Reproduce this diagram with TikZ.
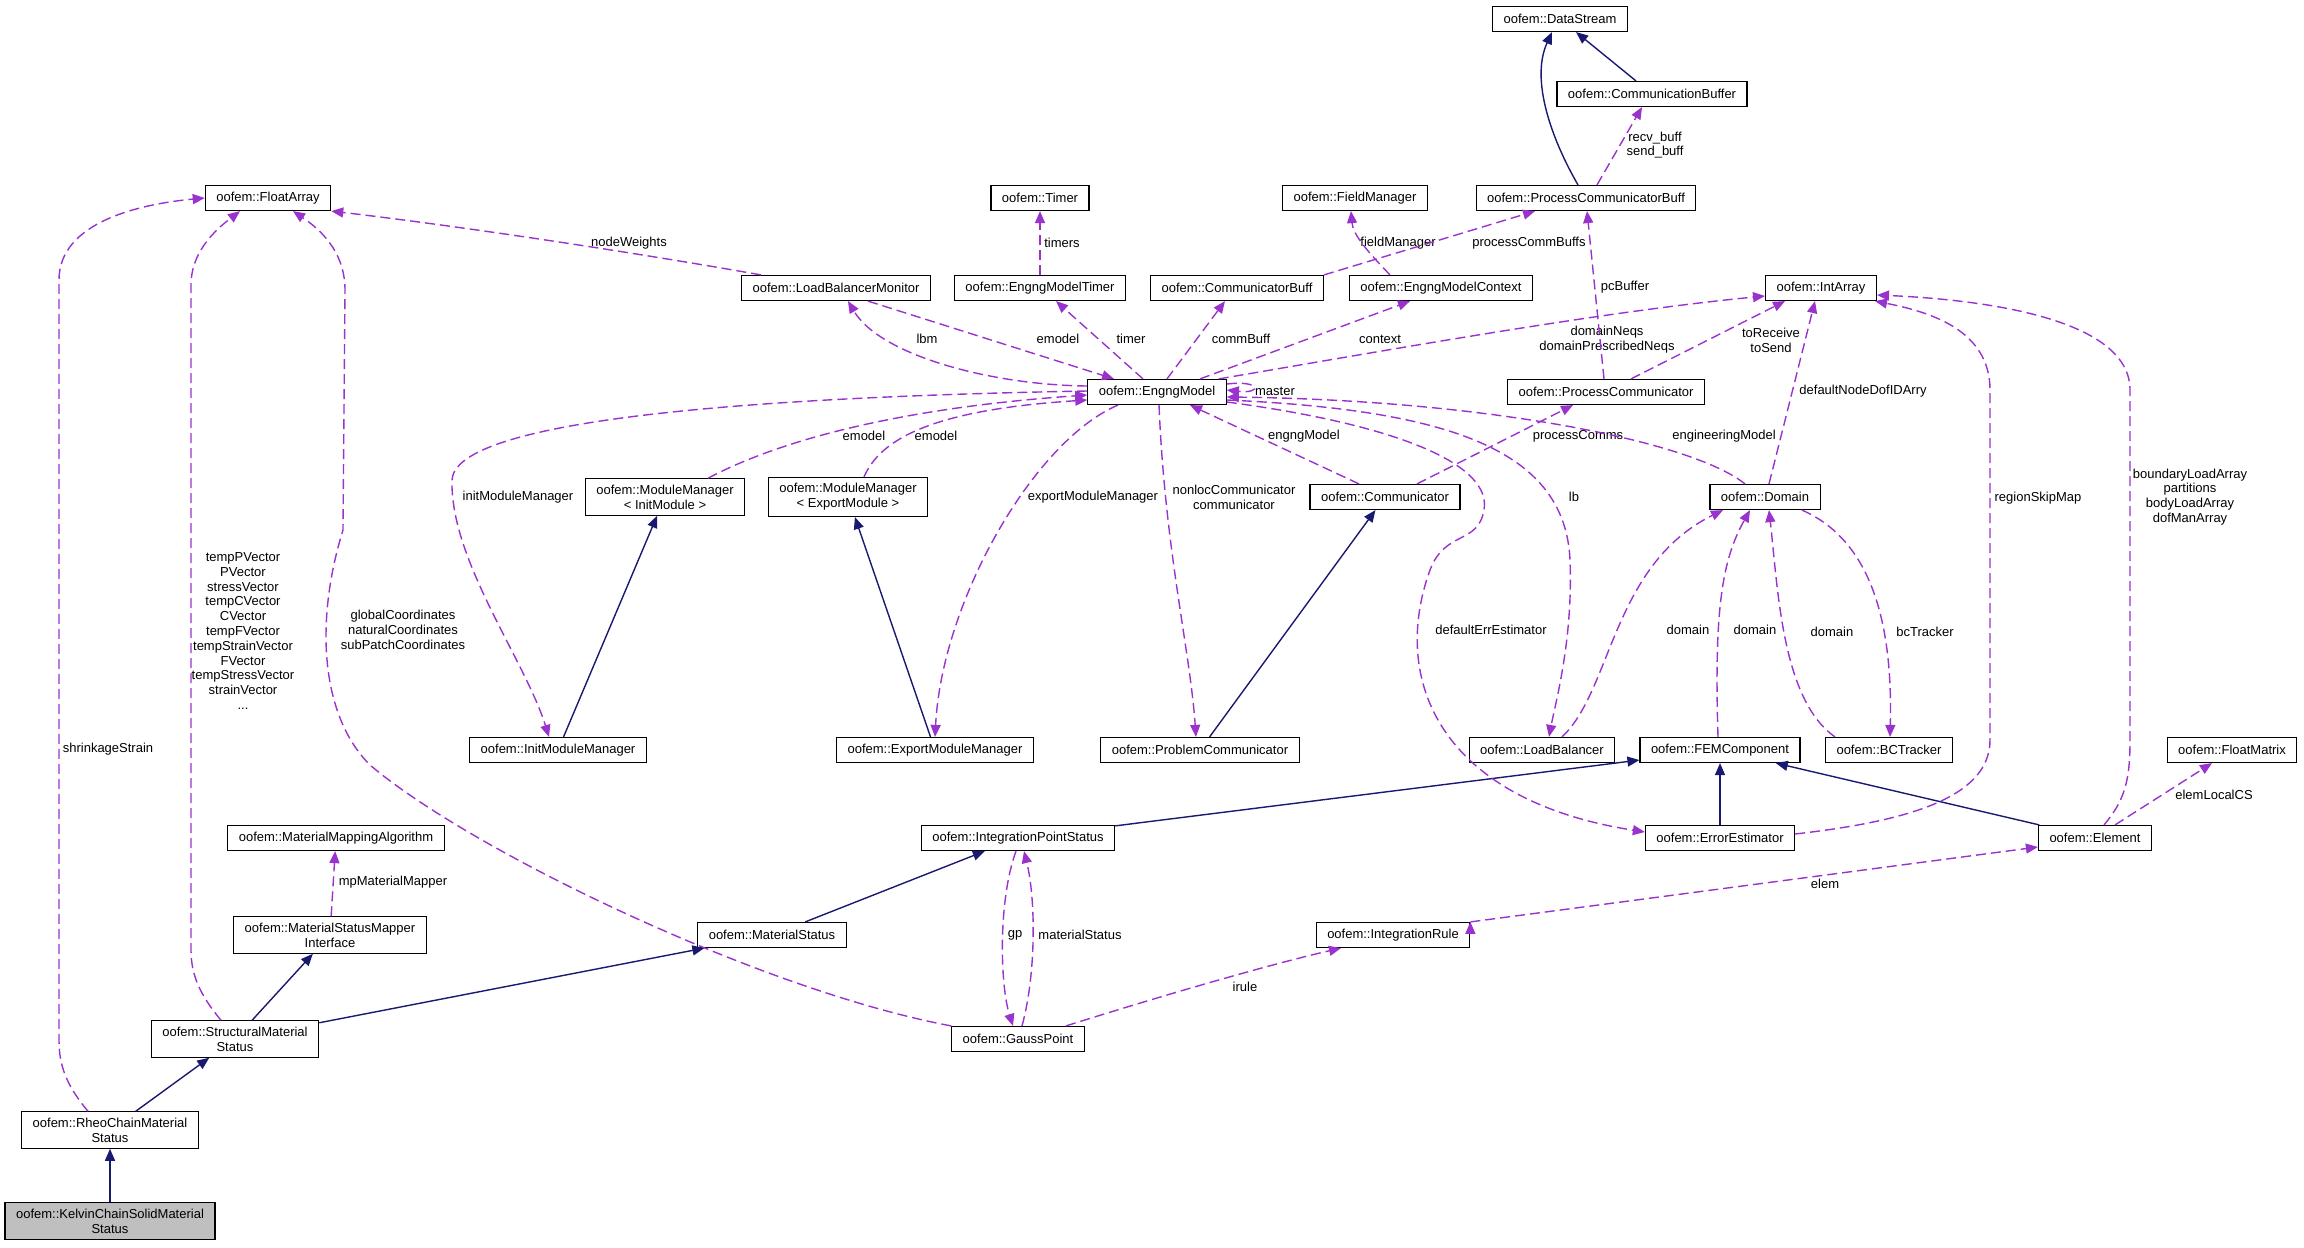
\documentclass[tikz,border=0pt]{standalone}
\usepackage{fontspec}
\setmainfont{Liberation Sans}
\usepackage{xcolor}
\usepackage{tikz}
\usetikzlibrary{arrows.meta}

\definecolor{inhblue}{HTML}{191970}
\definecolor{usepurple}{HTML}{9A32CD}
\definecolor{curgray}{HTML}{BFBFBF}

\tikzset{
  cls/.style={draw=black, line width=1.2pt, fill=white, align=center, inner xsep=11pt, inner ysep=6pt,
              minimum height=25pt, font=\fontsize{13}{14.8}\selectfont},
  lbl/.style={align=center, inner sep=0pt, font=\fontsize{13}{14.8}\selectfont},
  inhedge/.style={draw, color=inhblue, line width=1.4pt, -{Triangle[length=12pt,width=10pt]}},
  useedge/.style={draw, color=usepurple, line width=1.4pt, dash pattern=on 10pt off 5pt,
                  -{Triangle[length=12pt,width=10pt]}},
}

\begin{document}
\begin{tikzpicture}[x=1pt,y=-1pt]
                \useasboundingbox (0,0) rectangle (2304,1247);
                % classes
                \node[cls] at (268,198) (fa) {oofem::FloatArray};
                \node[cls] at (336,838) (mma) {oofem::MaterialMappingAlgorithm};
                \node[cls] at (330,935) (msmi) {oofem::MaterialStatusMapper\\Interface};
                \node[cls] at (235,1039) (sms) {oofem::StructuralMaterial\\Status};
                \node[cls] at (110,1130) (rcms) {oofem::RheoChainMaterial\\Status};
                \node[cls, fill=curgray] at (110,1221) (kcsms) {oofem::KelvinChainSolidMaterial\\Status};
                \node[cls] at (1040,198) (timer) {oofem::Timer};
                \node[cls] at (836,288) (lbm) {oofem::LoadBalancerMonitor};
                \node[cls] at (1040,288) (emt) {oofem::EngngModelTimer};
                \node[cls] at (665,497) (mmi) {oofem::ModuleManager\\< InitModule >};
                \node[cls] at (848,497) (mme) {oofem::ModuleManager\\< ExportModule >};
                \node[cls] at (1157,392) (em) {oofem::EngngModel};
                \node[cls] at (558,750) (imm) {oofem::InitModuleManager};
                \node[cls] at (935,750) (exm) {oofem::ExportModuleManager};
                \node[cls] at (1200,750) (pc) {oofem::ProblemCommunicator};
                \node[cls] at (1018,838) (ips) {oofem::IntegrationPointStatus};
                \node[cls] at (772,935) (ms) {oofem::MaterialStatus};
                \node[cls] at (1018,1039) (gp) {oofem::GaussPoint};
                \node[cls] at (1560,19) (ds) {oofem::DataStream};
                \node[cls] at (1652,94) (cbuf) {oofem::CommunicationBuffer};
                \node[cls] at (1355,198) (fm) {oofem::FieldManager};
                \node[cls] at (1586,198) (pcb) {oofem::ProcessCommunicatorBuff};
                \node[cls] at (1237,288) (cb) {oofem::CommunicatorBuff};
                \node[cls] at (1441,288) (emc) {oofem::EngngModelContext};
                \node[cls] at (1606,392) (proc) {oofem::ProcessCommunicator};
                \node[cls] at (1821,288) (ia) {oofem::IntArray};
                \node[cls] at (1385,497) (comm) {oofem::Communicator};
                \node[cls] at (1765,497) (dom) {oofem::Domain};
                \node[cls] at (1542,750) (lb) {oofem::LoadBalancer};
                \node[cls] at (1720,750) (fem) {oofem::FEMComponent};
                \node[cls] at (1720,838) (ee) {oofem::ErrorEstimator};
                \node[cls] at (1889,750) (bct) {oofem::BCTracker};
                \node[cls] at (2232,750) (fmx) {oofem::FloatMatrix};
                \node[cls] at (2095,838) (el) {oofem::Element};
                \node[cls] at (1393,935) (ir) {oofem::IntegrationRule};
                % member labels
                \node[lbl] at (108,749) (l-shrink) {shrinkageStrain};
                \node[lbl] at (243,631) (l-vectors) {tempPVector\\PVector\\stressVector\\tempCVector\\CVector\\tempFVector\\tempStrainVector\\FVector\\tempStressVector\\strainVector\\...};
                \node[lbl] at (403,630) (l-coords) {globalCoordinates\\naturalCoordinates\\subPatchCoordinates};
                \node[lbl] at (629,243) (l-weights) {nodeWeights};
                \node[lbl] at (393,882) (l-mapper) {mpMaterialMapper};
                \node[lbl] at (1062,243) (l-timers) {timers};
                \node[lbl] at (927,339) (l-lbm) {lbm};
                \node[lbl] at (1058,339) (l-emodel) {emodel};
                \node[lbl] at (1131,339) (l-timer) {timer};
                \node[lbl] at (1241,339) (l-commbuff) {commBuff};
                \node[lbl] at (1380,339) (l-context) {context};
                \node[lbl] at (1398,243) (l-fieldman) {fieldManager};
                \node[lbl] at (1529,243) (l-pcbuffs) {processCommBuffs};
                \node[lbl] at (1655,145) (l-buff) {recv\_buff\\send\_buff};
                \node[lbl] at (1625,287) (l-pcbuffer) {pcBuffer};
                \node[lbl] at (1607,340) (l-neqs) {domainNeqs\\domainPrescribedNeqs};
                \node[lbl] at (1771,340) (l-tosend) {toReceive\\toSend};
                \node[lbl] at (1275,391) (l-master) {master};
                \node[lbl] at (864,436) (l-emodel2) {emodel};
                \node[lbl] at (936,436) (l-emodel3) {emodel};
                \node[lbl] at (1304,436) (l-engng) {engngModel};
                \node[lbl] at (1578,436) (l-pcomms) {processComms};
                \node[lbl] at (1724,436) (l-engmodel) {engineeringModel};
                \node[lbl] at (518,497) (l-initmm) {initModuleManager};
                \node[lbl] at (1093,497) (l-expmm) {exportModuleManager};
                \node[lbl] at (1234,497) (l-communicator) {nonlocCommunicator\\communicator};
                \node[lbl] at (1574,497) (l-lb) {lb};
                \node[lbl] at (1863,391) (l-dofid) {defaultNodeDofIDArry};
                \node[lbl] at (2038,498) (l-skip) {regionSkipMap};
                \node[lbl] at (2190,497) (l-arrays) {boundaryLoadArray\\partitions\\bodyLoadArray\\dofManArray};
                \node[lbl] at (1491,630) (l-errest) {defaultErrEstimator};
                \node[lbl] at (1688,630) (l-dom1) {domain};
                \node[lbl] at (1755,630) (l-dom2) {domain};
                \node[lbl] at (1832,632) (l-dom3) {domain};
                \node[lbl] at (1925,632) (l-bct) {bcTracker};
                \node[lbl] at (2214,795) (l-elcs) {elemLocalCS};
                \node[lbl] at (1825,884) (l-elem) {elem};
                \node[lbl] at (1245,987) (l-irule) {irule};
                \node[lbl] at (1015,935) (l-gp) {gp};
                \node[lbl] at (1080,935) (l-matstat) {materialStatus};
                % inheritance
                \path[inhedge]
                    (kcsms) edge (rcms)
                    (rcms) edge (sms)
                    (sms) edge (msmi)
                    (sms) edge (ms)
                    (ms) edge (ips)
                    (ips) edge (fem)
                    (ee) edge (fem)
                    (el) edge (fem)
                    (imm) edge (mmi)
                    (exm) edge (mme)
                    (pc) edge (comm)
                    (cbuf) edge (ds);
                \draw[inhedge] ([xshift=-8]pcb.north) .. controls (1552,140) and (1530,80) .. ([xshift=-8]ds.south);
                % usage, straight
                \path[useedge]
                    (msmi) edge (mma)
                    (emt) edge (timer)
                    ([xshift=32]lbm.south) edge ([xshift=-43]em.north)
                    ([xshift=-14]em.north) edge ([xshift=16]emt.south)
                    ([xshift=10]em.north) edge ([xshift=-12]cb.south)
                    ([xshift=43]em.north) edge ([xshift=-31]emc.south)
                    (cb.north east) edge ([xshift=-51]pcb.south)
                    ([xshift=11]pcb.north) edge ([xshift=-10]cbuf.south)
                    ([xshift=-2]proc.north) edge ([xshift=1]pcb.south)
                    ([xshift=25]proc.north) edge ([xshift=-36]ia.south)
                    ([xshift=-26]comm.north) edge ([xshift=33]em.south)
                    ([xshift=32]comm.north) edge ([xshift=-33]proc.south)
                    ([xshift=4]dom.north) edge ([xshift=-6]ia.south)
                    ([xshift=20]el.north) edge ([xshift=-20]fmx.south)
                    (ir.north east) edge ([yshift=-9]el.west);
                % usage, curved
                \draw[useedge] ([xshift=-22]rcms.north) .. controls (66,1085) and (59,1065) .. (59,1040) -- (59,280) .. controls (59,222) and (140,204) .. (fa.west);
                \draw[useedge] ([xshift=-14]sms.north) .. controls (200,995) and (191,975) .. (191,950) -- (191,285) .. controls (191,248) and (222,225) .. ([xshift=-28]fa.south);
                \draw[useedge] (gp.north west) .. controls (760,990) and (470,850) .. (370,765) .. controls (320,715) and (315,620) .. (343,530) -- (345,290) .. controls (345,250) and (318,228) .. ([xshift=25]fa.south);
                \draw[useedge] ([xshift=-75]lbm.north) .. controls (620,250) and (450,225) .. (fa.south east);
                \draw[useedge] ([xshift=-51]emc.north) .. controls (1368,252) and (1353,235) .. ([xshift=-4]fm.south);
                \draw[useedge] ([yshift=6]em.west) .. controls (990,385) and (880,355) .. ([xshift=12]lbm.south);
                \draw[useedge] ([xshift=43]mmi.north) .. controls (780,440) and (900,408) .. ([yshift=-3]em.west);
                \draw[useedge] ([xshift=16]mme.north) .. controls (880,440) and (930,410) .. ([yshift=-8]em.west);
                \draw[useedge] ([yshift=1]em.west) .. controls (700,398) and (455,425) .. (452,480) .. controls (450,560) and (525,660) .. ([xshift=-9]imm.north);
                \draw[useedge] ([xshift=-39]em.south) .. controls (1035,440) and (942,600) .. (exm.north);
                \draw[useedge] ([xshift=2]em.south) .. controls (1165,550) and (1190,650) .. ([xshift=-4]pc.north);
                \draw[useedge] ([xshift=-8]em.north east) .. controls (1400,348) and (1600,312) .. ([yshift=-8]ia.west);
                \draw[useedge] ([yshift=8]em.east) .. controls (1262,380) and (1262,394) .. ([yshift=2]em.east);
                \draw[useedge] ([xshift=-20]dom.north) .. controls (1690,440) and (1480,400) .. ([yshift=-5]em.east);
                \draw[useedge] ([yshift=-8]em.east) .. controls (1450,410) and (1565,450) .. (1570,560) .. controls (1573,640) and (1556,700) .. ([xshift=7]lb.north);
                \draw[useedge] ([yshift=-10]em.east) .. controls (1400,425) and (1492,465) .. (1484,510) .. controls (1478,545) and (1445,530) .. (1430,570) .. controls (1390,680) and (1440,800) .. ([yshift=6]ee.west);
                \draw[useedge] ([xshift=20]lb.north) .. controls (1612,690) and (1612,565) .. ([xshift=-42]dom.south);
                \draw[useedge] ([xshift=-2]fem.north) .. controls (1714,610) and (1722,560) .. ([xshift=-15]dom.south);
                \draw[useedge] ([xshift=-54]bct.north) .. controls (1782,700) and (1778,590) .. ([xshift=4]dom.south);
                \draw[useedge] ([xshift=37]dom.south) .. controls (1870,540) and (1893,620) .. ([xshift=1]bct.north);
                \draw[useedge] ([yshift=4]ee.east) .. controls (1900,822) and (1990,800) .. (1990,740) -- (1990,390) .. controls (1990,330) and (1930,312) .. ([xshift=-2]ia.south east);
                \draw[useedge] ([xshift=9]el.north) .. controls (2125,800) and (2130,780) .. (2130,740) -- (2130,390) .. controls (2130,320) and (1990,300) .. ([yshift=-7]ia.east);
                \draw[useedge] ([xshift=48]gp.north) .. controls (1180,990) and (1280,962) .. ([xshift=-52]ir.south);
                \draw[useedge] ([xshift=-2]ips.south) .. controls (998,900) and (1000,985) .. ([xshift=-5]gp.north);
                \draw[useedge] ([xshift=4]gp.north) .. controls (1036,975) and (1036,900) .. ([xshift=6]ips.south);
\end{tikzpicture}
\end{document}
